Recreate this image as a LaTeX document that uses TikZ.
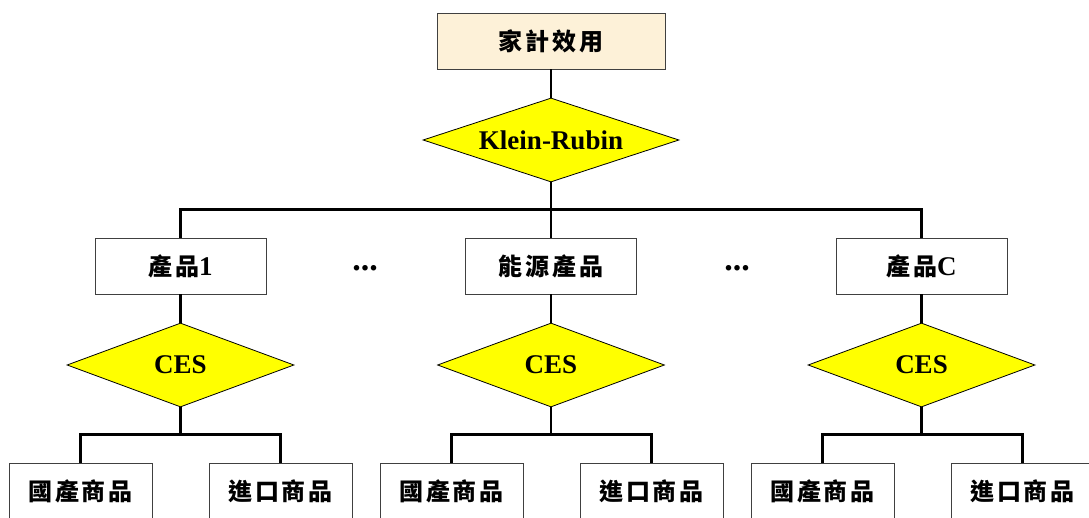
\documentclass[tikz,border=0pt]{standalone}
\usepackage{fontspec}
\setmainfont{Liberation Serif}
\newfontfamily\cjk[LetterSpace=12]{Noto Sans CJK TC}
\usetikzlibrary{shapes.geometric}
\definecolor{beige}{HTML}{FDF1D8}
\definecolor{yel}{HTML}{FFFF00}
\definecolor{boxline}{HTML}{404040}
\tikzset{
  box/.style={draw=boxline, line width=0.9pt, rectangle, fill=white, inner sep=0pt,
    minimum width=171pt, minimum height=56pt, font=\fontsize{24}{26}\selectfont\bfseries},
  topbox/.style={box, fill=beige, minimum width=228pt},
  leaf/.style={box, minimum width=143pt},
  dia/.style={draw=black, line width=0.8pt, diamond, fill=yel, inner sep=0pt, aspect=2.7,
    minimum width=227pt, minimum height=84pt, font=\fontsize{27}{29}\selectfont\bfseries},
  conn/.style={draw=black, line width=2.6pt},
  dots/.style={font=\fontsize{34}{36}\selectfont\bfseries, inner sep=0pt}
}
\newcommand{\lat}[1]{{\fontsize{27}{29}\selectfont #1}}
\begin{document}
\begin{tikzpicture}[x=1pt,y=-1pt]
\useasboundingbox (0,0) rectangle (1089,518);
\clip (0,0) rectangle (1089,518);
% nodes
\node[topbox] (top) at (551,41) {\cjk 家計效用};
\node[dia, minimum width=256pt] (kr) at (551,140) {Klein-Rubin};
\node[box] (p1) at (180.5,266) {{\cjk 產品}\lat{1}};
\node[box] (p2) at (551,266) {\cjk 能源產品};
\node[box] (p3) at (921.5,266) {{\cjk 產品}\lat{C}};
\node[dots] (d1) at (365,268) {...};
\node[dots] (d2) at (737,268) {...};
\node[dia] (c1) at (180.5,365) {CES};
\node[dia] (c2) at (551,365) {CES};
\node[dia] (c3) at (921.5,365) {CES};
\node[leaf] (a1) at (80.5,491) {\cjk 國產商品};
\node[leaf] (b1) at (280.5,491) {\cjk 進口商品};
\node[leaf] (a2) at (451.5,491) {\cjk 國產商品};
\node[leaf] (b2) at (651.5,491) {\cjk 進口商品};
\node[leaf] (a3) at (822.5,491) {\cjk 國產商品};
\node[leaf] (b3) at (1022.5,491) {\cjk 進口商品};
% connectors
\draw[conn] (top.south) -- (kr.north);
\draw[conn] (kr.south) -- (p2.north);
\draw[conn] (p1.north) -- ++(0,-28) -| (p3.north);
\foreach \i in {1,2,3}{
  \draw[conn] (p\i.south) -- (c\i.north);
  \draw[conn] (c\i.south) -- ++(0,28);
  \draw[conn] (a\i.north) -- ++(0,-28) -| (b\i.north);
}
\end{tikzpicture}
\end{document}
